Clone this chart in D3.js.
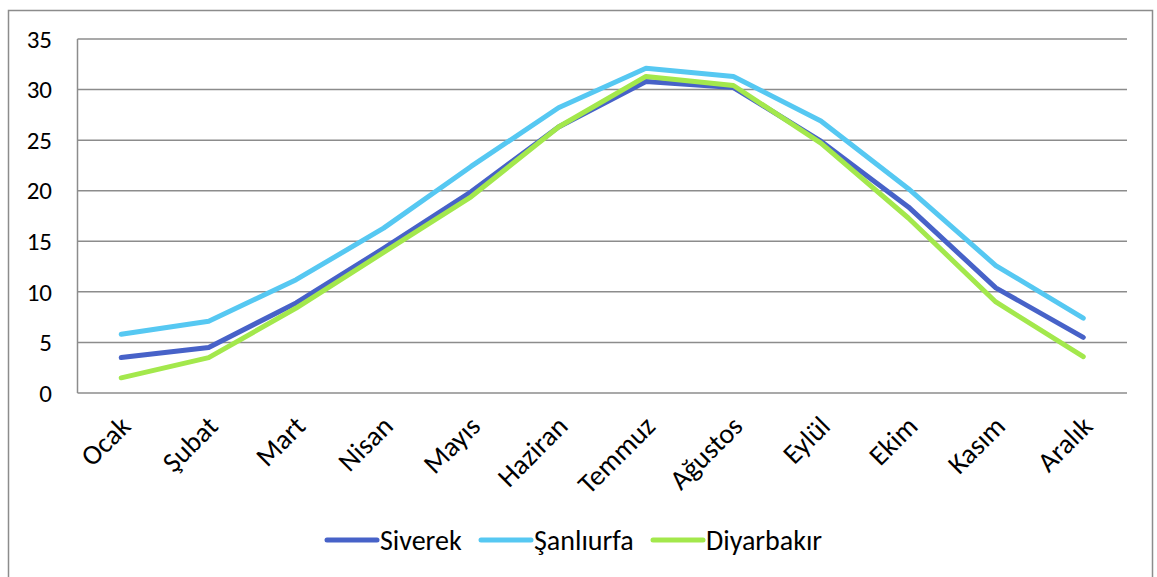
<!DOCTYPE html>
<html><head><meta charset="utf-8">
<script src="https://cdn.jsdelivr.net/npm/d3@7"></script>
<style>body{margin:0;background:#fff;} svg{display:block;} text{font-family:Carlito,Calibri,Lato,"Open Sans",sans-serif;}</style>
</head><body>
<svg id="c" width="1157" height="577"></svg>
<script>
const months = ["Ocak","Şubat","Mart","Nisan","Mayıs","Haziran","Temmuz","Ağustos","Eylül","Ekim","Kasım","Aralık"];
const siverek = [3.5,4.5,8.9,14.3,19.9,26.3,30.8,30.2,24.9,18.4,10.4,5.5];
const sanliurfa = [5.8,7.1,11.2,16.3,22.4,28.2,32.1,31.3,26.9,20.2,12.6,7.4];
const diyarbakir = [1.5,3.5,8.4,13.9,19.4,26.3,31.3,30.4,24.7,17.3,9.0,3.6];
const seriesNames = ["Siverek","Şanlıurfa","Diyarbakır"];
const seriesColors = ["#4762c8","#56c8f2","#a3e84c"];
const yTicks = [0,5,10,15,20,25,30,35];

const svg = d3.select("#c");
svg.append("rect").attr("x",8.5).attr("y",10.5).attr("width",1144).attr("height",575)
  .attr("fill","#fff").attr("stroke","#8c8c8c").attr("stroke-width",1.5);

const L=77.5, R=1127, T=39, B=393;
const x = d3.scalePoint().domain(months).range([L,R]).padding(0.5);
const y = d3.scaleLinear().domain([0,35]).range([B,T]);

const grid = svg.append("g");
grid.selectAll("line").data(yTicks).join("line")
  .attr("x1",L).attr("x2",R).attr("y1",d=>y(d)).attr("y2",d=>y(d))
  .attr("stroke","#8c8c8c").attr("stroke-width",1.5);
svg.append("line").attr("x1",L).attr("x2",L).attr("y1",T).attr("y2",B)
  .attr("stroke","#8c8c8c").attr("stroke-width",1.5);

svg.append("g").selectAll("text").data(yTicks).join("text")
  .attr("x",52).attr("y",d=>y(d)).attr("dy","0.35em").attr("text-anchor","end")
  .attr("font-size",25).attr("fill","#000").text(d=>d);

svg.append("g").selectAll("text").data(months).join("text")
  .attr("transform",d=>`translate(${x(d)+4},${421}) rotate(-45)`)
  .attr("text-anchor","end").attr("dy","0.35em")
  .attr("font-size",28).attr("fill","#000").text(d=>d);

const data = [siverek,sanliurfa,diyarbakir];
const line = d3.line().x((d,i)=>x(months[i])).y(d=>y(d));
data.forEach((s,k)=>{
  svg.append("path").datum(s).attr("d",line).attr("fill","none")
    .attr("stroke",seriesColors[k]).attr("stroke-width",5)
    .attr("stroke-linejoin","round").attr("stroke-linecap","round");
});

const legX = [327,481,653];
const lg = svg.append("g");
seriesNames.forEach((n,k)=>{
  lg.append("line").attr("x1",legX[k]).attr("x2",legX[k]+50).attr("y1",540).attr("y2",540)
    .attr("stroke",seriesColors[k]).attr("stroke-width",5).attr("stroke-linecap","round");
  lg.append("text").attr("x",legX[k]+53).attr("y",540).attr("dy","0.35em")
    .attr("font-size",28).attr("fill","#000").text(n);
});
</script>
</body></html>
